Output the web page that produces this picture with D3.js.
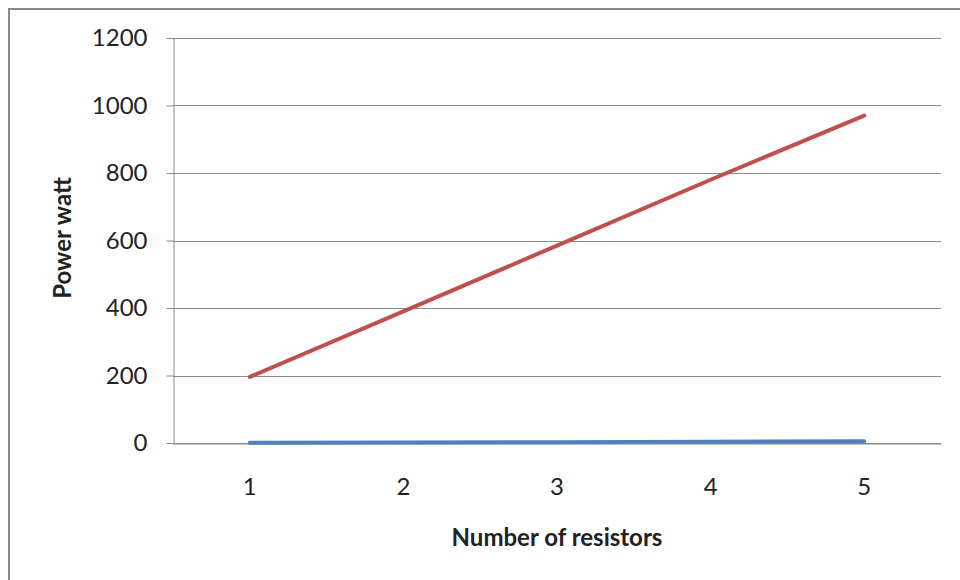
<!DOCTYPE html>
<html>
<head>
<meta charset="utf-8">
<script src="https://cdn.jsdelivr.net/npm/d3@7"></script>
<style>
  html, body { margin: 0; padding: 0; background: #fff; }
  svg { display: block; }
  text { font-family: Lato, "Open Sans", sans-serif; fill: #222; }
</style>
</head>
<body>
<svg id="chart" width="960" height="580"></svg>
<script>
// Power dissipated vs number of resistors
const resistors = [1, 2, 3, 4, 5];
const seriesLow = [1, 1.5, 2.5, 4, 5];
const seriesHigh = [196, 390, 585, 780, 970];
const yTicks = [0, 200, 400, 600, 800, 1000, 1200];

const svg = d3.select("#chart");
const W = 960, H = 580;
const m = { left: 173, right: 19, top: 38, bottom: 137 };
const innerW = W - m.left - m.right;
const innerH = H - m.top - m.bottom;

// chart area frame
svg.append("rect")
  .attr("x", 9).attr("y", 9)
  .attr("width", W).attr("height", H)
  .attr("fill", "#fff").attr("stroke", "#8a8a8a").attr("stroke-width", 2);

const g = svg.append("g").attr("transform", `translate(${m.left},${m.top})`);

const x = d3.scaleBand().domain(resistors).range([0, innerW]);
const y = d3.scaleLinear().domain([0, 1200]).range([innerH, 0]);

// gridlines
g.append("g")
  .selectAll("line")
  .data(yTicks)
  .join("line")
  .attr("x1", 0).attr("x2", innerW)
  .attr("y1", d => Math.round(y(d)) + 0.5).attr("y2", d => Math.round(y(d)) + 0.5)
  .attr("stroke", "#8c8c8c").attr("stroke-width", 1);

// y axis
const yAxis = g.append("g")
  .attr("transform", "translate(0.5,0)")
  .call(d3.axisLeft(y).tickValues(yTicks).tickFormat(d3.format("d"))
    .tickSize(7).tickPadding(19).tickSizeOuter(0));
yAxis.select(".domain").attr("stroke", "#8c8c8c");
yAxis.selectAll(".tick line").attr("stroke", "#8c8c8c");
yAxis.selectAll(".tick text").attr("font-size", 24).attr("font-family", "Lato, sans-serif").attr("fill", "#222");

// x axis
const xAxis = g.append("g")
  .attr("transform", `translate(0,${innerH + 0.5})`)
  .call(d3.axisBottom(x).tickSize(0).tickPadding(34));
xAxis.select(".domain").attr("stroke", "#8c8c8c");
xAxis.selectAll(".tick text").attr("font-size", 24).attr("font-family", "Lato, sans-serif").attr("fill", "#222");

const cx = d => x(d) + x.bandwidth() / 2;

const line = d3.line()
  .x((d, i) => cx(resistors[i]))
  .y(d => y(d));

g.append("path")
  .datum(seriesLow)
  .attr("d", line)
  .attr("fill", "none")
  .attr("stroke", "#4F81BD")
  .attr("stroke-width", 4)
  .attr("stroke-linecap", "round")
  .attr("stroke-linejoin", "round");

g.append("path")
  .datum(seriesHigh)
  .attr("d", line)
  .attr("fill", "none")
  .attr("stroke", "#C0504D")
  .attr("stroke-width", 4)
  .attr("stroke-linecap", "round")
  .attr("stroke-linejoin", "round");

// axis titles
svg.append("text")
  .attr("x", 557)
  .attr("y", 546)
  .attr("text-anchor", "middle")
  .attr("font-size", 24)
  .attr("font-weight", "bold")
  .text("Number of resistors");

svg.append("text")
  .attr("transform", "translate(71,238) rotate(-90)")
  .attr("text-anchor", "middle")
  .attr("font-size", 24)
  .attr("font-weight", "bold")
  .text("Power watt");
</script>
</body>
</html>
